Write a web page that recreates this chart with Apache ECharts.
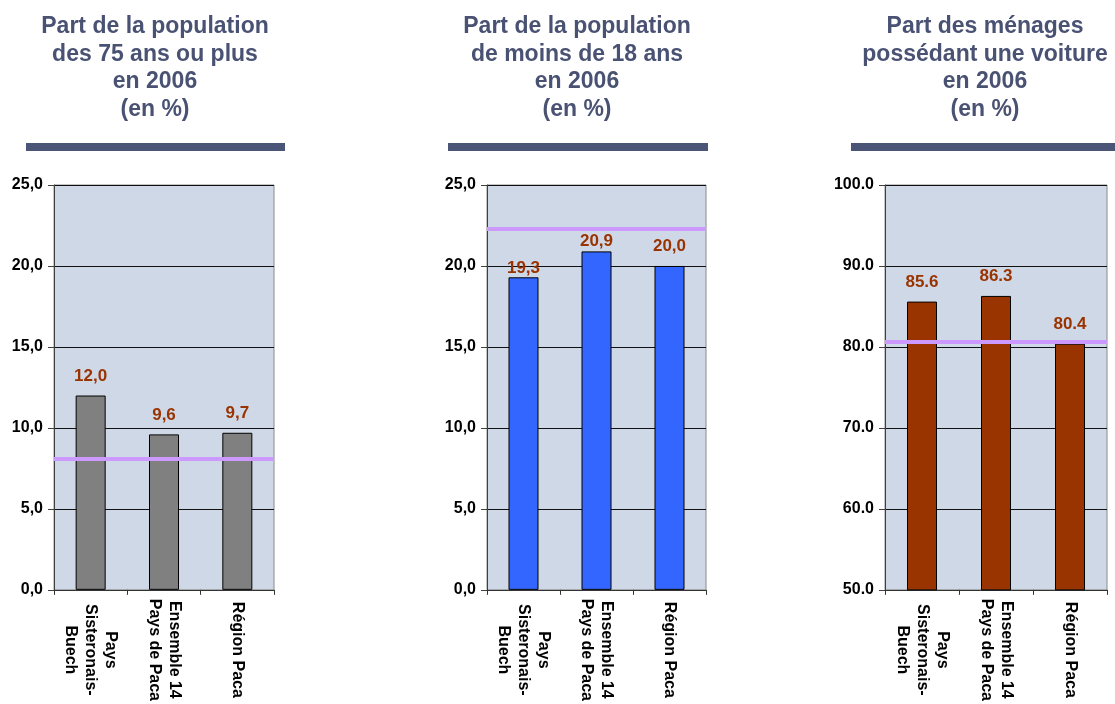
<!DOCTYPE html>
<html>
<head>
<meta charset="utf-8">
<script src="https://cdn.jsdelivr.net/npm/echarts@6/dist/echarts.min.js"></script>
<style>
  html, body { margin: 0; padding: 0; background: #fff; }
  #chart { width: 1115px; height: 704px; }
</style>
</head>
<body>
<div id="chart"></div>
<script>
var categories = ['Pays\nSisteronais-\nBuech', 'Ensemble 14\nPays de Paca', 'Région Paca'];
var titles = [
  'Part de la population\ndes 75 ans ou plus\nen 2006\n(en %)',
  'Part de la population\nde moins de 18 ans\nen 2006\n(en %)',
  'Part des ménages\npossédant une voiture\nen 2006\n(en %)'
];
var seniors = [12.0, 9.6, 9.7];
var youth = [19.3, 20.9, 20.0];
var cars = [85.6, 86.3, 80.4];
var refLines = [8.1, 22.3, 80.7];
var yMin = [0, 0, 50];
var yMax = [25, 25, 100];
var yStep = [5, 5, 10];

var font = "'Liberation Sans', Arial, sans-serif";
var chartDom = document.getElementById('chart');
var myChart = echarts.init(chartDom);

var grids = [
  { left: 54, width: 220 },
  { left: 487, width: 219 },
  { left: 885, width: 222 }
];
var titleX = [150, 572, 980];
var bandX = [[26, 285], [448, 708], [851, 1115]];
var barColors = ['#808080', '#3366ff', '#993300'];
var values = [seniors, youth, cars];
var commaDecimal = [true, true, false];
// label distances tuned per bar (Excel labels were nudged by hand)
var labelDist = [[11, 11, 11], [0, 2, 11], [11, 11, 11]];

function fmt(v, comma) {
  var s = Number(v).toFixed(1);
  return comma ? s.replace('.', ',') : s;
}

var option = {
  textStyle: { fontFamily: font },
  title: titles.map(function (t, i) {
    return {
      text: t,
      left: titleX[i],
      top: 8,
      textAlign: 'center',
      textStyle: { fontFamily: font, fontSize: 23, fontWeight: 'bold', color: '#4a5274', lineHeight: 27.5 }
    };
  }),
  graphic: bandX.map(function (b) {
    return { type: 'rect', shape: { x: b[0], y: 143, width: b[1] - b[0], height: 8 }, style: { fill: '#4a5577' } };
  }),
  grid: grids.map(function (g) {
    return {
      left: g.left, width: g.width, top: 185, height: 405,
      show: true, backgroundColor: '#cfd8e6', borderColor: '#8a8a8a', borderWidth: 1
    };
  }),
  xAxis: grids.map(function (g, i) {
    return {
      type: 'category', gridIndex: i, data: categories,
      axisLine: { lineStyle: { color: '#333', width: 1 } },
      axisTick: { show: true, length: 5, lineStyle: { color: '#333' } },
      axisLabel: {
        interval: 0, rotate: -90, align: 'center', verticalAlign: 'middle', margin: 60,
        fontFamily: font, fontSize: 16, fontWeight: 'bold', color: '#000', lineHeight: 20
      }
    };
  }),
  yAxis: grids.map(function (g, i) {
    return {
      type: 'value', gridIndex: i, min: yMin[i], max: yMax[i], interval: yStep[i],
      axisLine: { show: true, lineStyle: { color: '#404040' } },
      axisTick: { show: true, length: 6, lineStyle: { color: '#404040' } },
      splitLine: { lineStyle: { color: '#111', width: 1 } },
      axisLabel: {
        margin: 11, fontFamily: font, fontSize: 16, fontWeight: 'bold', color: '#000',
        formatter: function (v) { return fmt(v, commaDecimal[i]); }
      }
    };
  }),
  series: values.map(function (vals, i) {
    return {
      type: 'bar', xAxisIndex: i, yAxisIndex: i, barWidth: 30,
      data: vals.map(function (v, j) {
        return { value: v, label: { distance: labelDist[i][j] } };
      }),
      itemStyle: { color: barColors[i], borderColor: '#000', borderWidth: 1 },
      label: {
        show: true, position: 'top', fontFamily: font, fontSize: 17, fontWeight: 'bold', color: '#993300',
        formatter: function (p) { return fmt(p.value, commaDecimal[i]); }
      },
      markLine: {
        silent: true, symbol: 'none', label: { show: false },
        lineStyle: { color: '#cc99ff', width: 4, type: 'solid' },
        data: [{ yAxis: refLines[i] }]
      }
    };
  })
};

option && myChart.setOption(option);
</script>
</body>
</html>
